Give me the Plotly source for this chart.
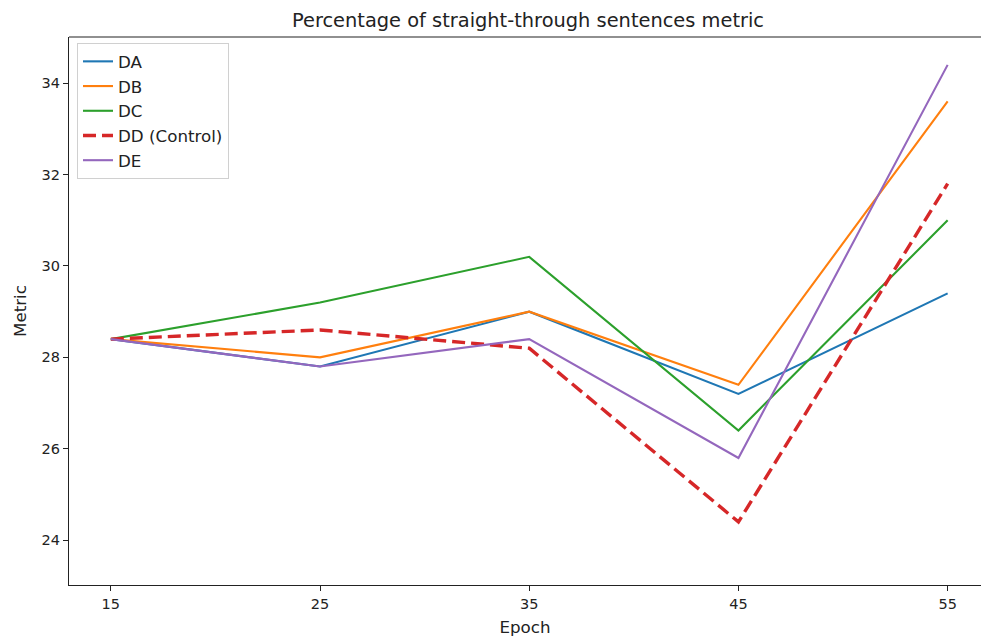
import plotly.graph_objects as go

epochs = [15, 25, 35, 45, 55]
series_names = ["DA", "DB", "DC", "DD (Control)", "DE"]
da = [28.4, 27.8, 29.0, 27.2, 29.4]
db = [28.4, 28.0, 29.0, 27.4, 33.6]
dc = [28.4, 29.2, 30.2, 26.4, 31.0]
dd = [28.4, 28.6, 28.2, 24.4, 31.8]
de = [28.4, 27.8, 28.4, 25.8, 34.4]
y_ticks = [24, 26, 28, 30, 32, 34]

series = [da, db, dc, dd, de]
colors = ["#1f77b4", "#ff7f0e", "#2ca02c", "#d62728", "#9467bd"]
widths = [2.1, 2.1, 2.1, 3.4, 2.1]
dashes = ["solid", "solid", "solid", "13px,6px", "solid"]

FONT = "DejaVu Sans"
fig = go.Figure()
for name, vals, c, w, d in zip(series_names, series, colors, widths, dashes):
    fig.add_trace(go.Scatter(x=epochs, y=vals, mode="lines", name=name,
                             line=dict(color=c, width=w, dash=d)))

fig.update_layout(
    width=981, height=640,
    margin=dict(l=69, r=0, t=37, b=55),
    plot_bgcolor="white", paper_bgcolor="white",
    font=dict(family=FONT, size=14, color="#222"),
    title=dict(text="Percentage of straight-through sentences metric",
               x=528 / 981, xanchor="center", y=1 - 20 / 640, yanchor="middle",
               font=dict(size=19.4, family=FONT, color="#222")),
    xaxis=dict(range=[13, 13 + (981 - 69) / 20.92], tickvals=epochs,
               showgrid=False, zeroline=False, showline=True, linecolor="#222", linewidth=1.2,
               ticks="outside", ticklen=5, tickcolor="#222", tickwidth=1,
               title=dict(text="Epoch", standoff=10, font=dict(size=16.7)),
               tickfont=dict(size=14.5)),
    yaxis=dict(range=[23.02, 35.01], tickvals=y_ticks,
               showgrid=False, zeroline=False, showline=True, linecolor="#222", linewidth=1.2,
               ticks="outside", ticklen=5, tickcolor="#222", tickwidth=1,
               title=dict(text="Metric", standoff=10, font=dict(size=16.7)),
               tickfont=dict(size=14.5)),
    legend=dict(x=8 / 912, y=1 - 6 / 548, xanchor="left", yanchor="top",
                bgcolor="rgba(255,255,255,0.8)", bordercolor="#d0d0d0", borderwidth=1,
                font=dict(size=16.7, family=FONT, color="#222"), tracegroupgap=0),
    shapes=[dict(type="line", xref="paper", yref="paper", x0=0, x1=1, y0=1, y1=1,
                 line=dict(color="#222", width=1.2))],
    showlegend=True,
)

fig.write_html("out.html")
